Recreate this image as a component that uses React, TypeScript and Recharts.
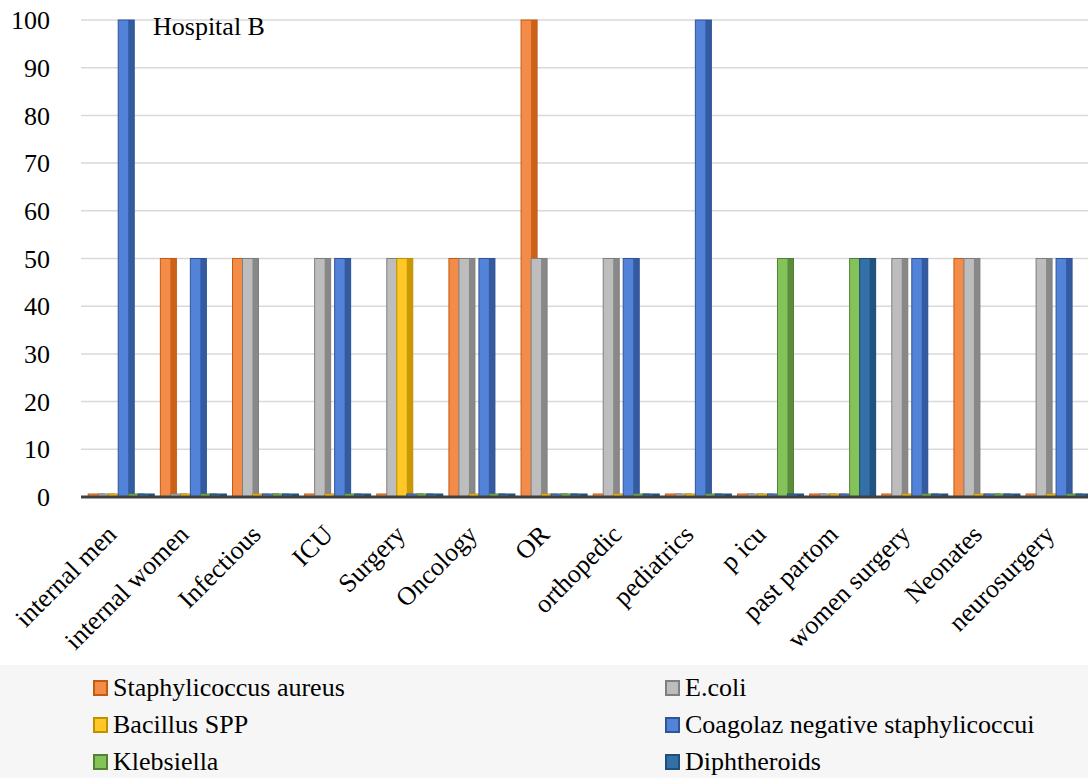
import { BarChart, Bar, XAxis, YAxis, CartesianGrid } from 'recharts';

const categories = [
  'internal men', 'internal women', 'Infectious', 'ICU', 'Surgery', 'Oncology', 'OR',
  'orthopedic', 'pediatrics', 'p icu', 'past partom', 'women surgery', 'Neonates', 'neurosurgery',
];

const staphAureus = [0, 50, 50, 0, 0, 50, 100, 0, 0, 0, 0, 0, 50, 0];
const eColi = [0, 0, 50, 50, 50, 50, 50, 50, 0, 0, 0, 50, 50, 50];
const bacillus = [0, 0, 0, 0, 50, 0, 0, 0, 0, 0, 0, 0, 0, 0];
const coagolaz = [100, 50, 0, 50, 0, 50, 0, 50, 100, 0, 0, 50, 0, 50];
const klebsiella = [0, 0, 0, 0, 0, 0, 0, 0, 0, 50, 50, 0, 0, 0];
const diphtheroids = [0, 0, 0, 0, 0, 0, 0, 0, 0, 0, 50, 0, 0, 0];

const yTicks = [0, 10, 20, 30, 40, 50, 60, 70, 80, 90, 100];

const series = [
  { key: 'staph', name: 'Staphylicoccus aureus', values: staphAureus, front: '#F28C48', side: '#C55A11' },
  { key: 'ecoli', name: 'E.coli', values: eColi, front: '#BDBDBD', side: '#7F7F7F' },
  { key: 'bacillus', name: 'Bacillus SPP', values: bacillus, front: '#FFC826', side: '#BF9000' },
  { key: 'coag', name: 'Coagolaz negative staphylicoccui', values: coagolaz, front: '#5283D8', side: '#2F5597' },
  { key: 'kleb', name: 'Klebsiella', values: klebsiella, front: '#84C25A', side: '#548235' },
  { key: 'diph', name: 'Diphtheroids', values: diphtheroids, front: '#3470A8', side: '#1F4E79' },
];

const data = categories.map((name, i) => {
  const row: Record<string, any> = { name };
  series.forEach((s) => (row[s.key] = s.values[i]));
  return row;
});

const FONT = '"Liberation Serif", "Times New Roman", serif';

// front face + darker side face, drawn wider than the slot so next series overlaps it
function Column3D(props: any) {
  const { x, y, width, height, front, side } = props;
  if (height == null || isNaN(height)) return null;
  const w = width + 6;
  const sideW = Math.round(w * 0.38);
  return (
    <g>
      <rect x={x} y={y} width={w} height={height} fill={front} stroke={side} strokeWidth={1} />
      <rect x={x + w - sideW} y={y} width={sideW} height={height} fill={side} opacity={0.85} />
    </g>
  );
}

function XTick({ x, y, payload }: any) {
  const ty = y + 37;
  return (
    <text
      x={x + 1}
      y={ty}
      textAnchor="end"
      transform={`rotate(-45, ${x + 1}, ${ty})`}
      fontFamily={FONT}
      fontSize={26}
      fill="#000"
    >
      {payload.value}
    </text>
  );
}

function YTick({ y, payload }: any) {
  return (
    <text x={50} y={y} dy="0.35em" textAnchor="end" fontFamily={FONT} fontSize={26} fill="#000">
      {payload.value}
    </text>
  );
}

export default function App() {
  return (
    <div style={{ position: 'relative', width: 1088, height: 778, overflow: 'hidden', background: '#fff', fontFamily: FONT }}>
      <style>{'body{margin:0}'}</style>
      <BarChart
        width={1091}
        height={665}
        data={data}
        margin={{ top: 20, right: 0, left: 0, bottom: 0 }}
        barCategoryGap="10%"
        barGap={0}
      >
        <CartesianGrid vertical={false} stroke="#d9d9d9" strokeWidth={1.5} />
        <XAxis
          dataKey="name"
          interval={0}
          height={168}
          tickLine={false}
          tickSize={0}
          axisLine={{ stroke: '#404040', strokeWidth: 3 }}
          tick={<XTick />}
        />
        <YAxis
          width={81}
          domain={[0, 100]}
          ticks={yTicks}
          axisLine={false}
          tickLine={false}
          tick={<YTick />}
          interval={0}
        />
        {series.map((s) => (
          <Bar
            key={s.key}
            dataKey={s.key}
            name={s.name}
            isAnimationActive={false}
            minPointSize={3}
            shape={<Column3D front={s.front} side={s.side} />}
          />
        ))}
      </BarChart>

      <div style={{ position: 'absolute', left: 153, top: 14, fontSize: 26, lineHeight: '26px', color: '#000' }}>
        Hospital B
      </div>

      <div style={{ position: 'absolute', left: 0, top: 665, width: 1088, height: 113, background: '#f6f6f6' }}>
        {series.map((s, i) => {
          const col = i % 2;
          const row = Math.floor(i / 2);
          return (
            <div
              key={s.key}
              style={{
                position: 'absolute',
                left: col === 0 ? 93 : 665,
                top: 23 + row * 37 - 15,
                height: 30,
                display: 'flex',
                alignItems: 'center',
                fontSize: 26,
                whiteSpace: 'nowrap',
              }}
            >
              <span
                style={{
                  display: 'inline-block',
                  width: 11,
                  height: 12,
                  background: s.front,
                  border: `2px solid ${s.side}`,
                  marginRight: 5,
                }}
              />
              {s.name}
            </div>
          );
        })}
      </div>
    </div>
  );
}
